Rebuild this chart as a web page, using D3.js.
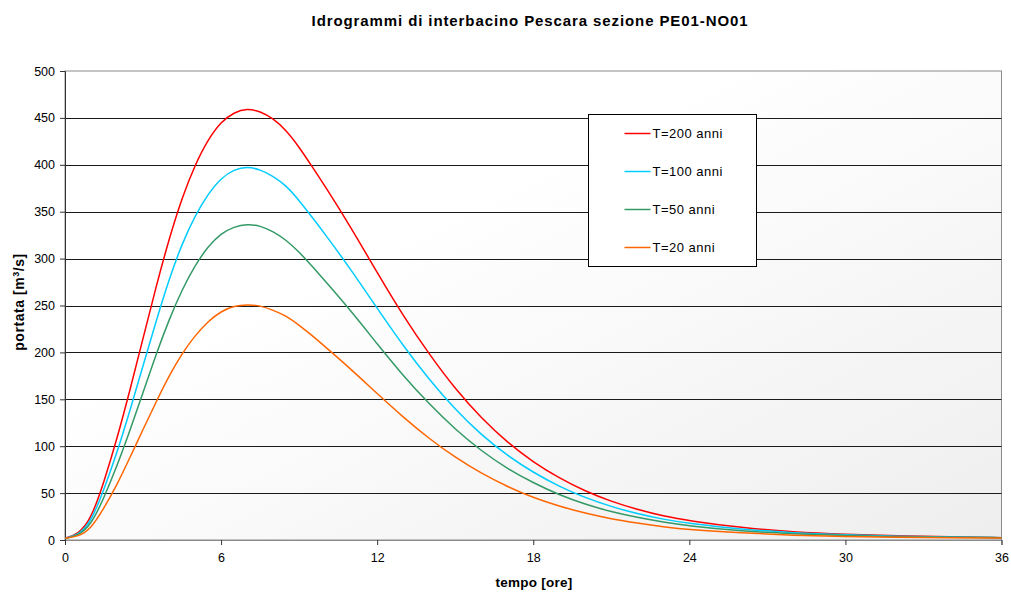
<!DOCTYPE html>
<html>
<head>
<meta charset="utf-8">
<script src="https://cdn.jsdelivr.net/npm/d3@7"></script>
<style>
  body { margin: 0; background: #fff; }
  svg { display: block; font-family: "Liberation Sans", Arial, sans-serif; }
</style>
</head>
<body>
<svg id="chart" width="1011" height="594"></svg>
<script>
// hours
const times = [0, 0.5, 1, 1.5, 2, 2.5, 3, 3.5, 4, 4.5, 5, 5.5, 6, 6.5, 7, 7.5, 8, 8.5, 9, 9.5, 10,
  11, 12, 13, 14, 15, 16, 17, 18, 19, 20, 21, 22, 23, 24, 26, 28, 30, 32, 34, 36];

// portata [m3/s] for each return period
const q200 = [2, 6, 22, 62, 108, 160, 215, 270, 321, 365, 400, 427, 446, 456, 460, 457, 449.5, 437, 419, 398, 377,
  333, 285, 239, 198, 161, 130, 104, 83, 66, 52, 41, 32.5, 25.5, 20.5, 13, 8.5, 6, 4.5, 3.5, 2.5];
const q100 = [2, 5, 19, 54, 93, 138, 186, 233, 278, 316, 346, 369, 386, 395, 398, 395, 388, 378, 362, 344, 326,
  288, 247, 207, 171, 139, 112, 90, 72, 57, 45, 35.5, 28, 22, 17.5, 11.5, 7.5, 5.5, 4, 3, 2.5];
const q50 = [1.5, 4.5, 16, 45, 79, 117, 157, 198, 235, 267, 293, 313, 327, 334, 337, 335, 329, 320, 307, 292, 276,
  244, 209, 175, 145, 118, 95, 76, 61, 48, 38, 30, 24, 19, 15, 9.5, 6.5, 4.5, 3.5, 3, 2.5];
const q20 = [2, 3.5, 12, 34, 59, 88, 118, 147, 175, 199, 218, 233, 244, 249.5, 251, 250, 245, 239, 229, 218, 206,
  182, 156, 131, 108, 88, 71, 57, 45, 36, 28.5, 22.5, 18, 14, 11, 7.5, 5, 3.5, 3, 2.5, 2];

const seriesNames = ["T=200 anni", "T=100 anni", "T=50 anni", "T=20 anni"];
const seriesData = [q200, q100, q50, q20];
const seriesColors = ["#ff0000", "#00ccff", "#339966", "#ff6600"];

const xTicks = [0, 6, 12, 18, 24, 30, 36];
const yTicks = d3.range(0, 501, 50);

const svg = d3.select("#chart");
const margin = { left: 65, right: 1001.5, top: 71, bottom: 540 };

const x = d3.scaleLinear().domain([0, 36]).range([margin.left, margin.right]);
const y = d3.scaleLinear().domain([0, 500]).range([margin.bottom, margin.top]);

// background gradient of the plot area
const grad = svg.append("defs").append("linearGradient")
  .attr("id", "bg").attr("x1", 0).attr("y1", 0).attr("x2", 1).attr("y2", 1);
grad.append("stop").attr("offset", "0.35").attr("stop-color", "#ffffff");
grad.append("stop").attr("offset", "1").attr("stop-color", "#eeeeee");

svg.append("rect")
  .attr("x", margin.left).attr("y", margin.top)
  .attr("width", margin.right - margin.left).attr("height", margin.bottom - margin.top)
  .attr("fill", "url(#bg)")
  .attr("stroke", "#8a8a8a");

// gridlines
svg.append("g")
  .selectAll("line")
  .data(yTicks.filter(d => d > 0 && d < 500))
  .join("line")
  .attr("x1", margin.left).attr("x2", margin.right)
  .attr("y1", d => Math.round(y(d)) + 0.5).attr("y2", d => Math.round(y(d)) + 0.5)
  .attr("stroke", "#1a1a1a");

// axes
const yAxis = svg.append("g")
  .attr("transform", `translate(${margin.left},0)`)
  .call(d3.axisLeft(y).tickValues(yTicks).tickSize(5).tickPadding(5));
yAxis.select(".domain").attr("stroke", "#333");
yAxis.selectAll(".tick line").attr("stroke", "#333");
yAxis.selectAll("text").attr("font-size", 12.5).attr("fill", "#000")
  .attr("font-family", "Liberation Sans, Arial, sans-serif");

const xAxis = svg.append("g")
  .attr("transform", `translate(0,${margin.bottom})`)
  .call(d3.axisBottom(x).tickValues(xTicks).tickSize(5).tickPadding(8));
xAxis.select(".domain").attr("stroke", "#8a8a8a");
xAxis.selectAll(".tick line").attr("stroke", "#333");
xAxis.selectAll("text").attr("font-size", 12.5).attr("fill", "#000")
  .attr("font-family", "Liberation Sans, Arial, sans-serif");

// curves
const line = d3.line()
  .x((d, i) => x(times[i]))
  .y(d => y(d))
  .curve(d3.curveBasis);

svg.append("g")
  .selectAll("path")
  .data(seriesData)
  .join("path")
  .attr("d", d => line(d))
  .attr("fill", "none")
  .attr("stroke", (d, i) => seriesColors[i])
  .attr("stroke-width", 1.5);

// titles
svg.append("text")
  .attr("x", 530).attr("y", 26)
  .attr("text-anchor", "middle")
  .attr("font-size", 15).attr("font-weight", "bold")
  .attr("letter-spacing", 0.9)
  .text("Idrogrammi di interbacino Pescara sezione PE01-NO01");

svg.append("text")
  .attr("x", 534).attr("y", 587)
  .attr("text-anchor", "middle")
  .attr("font-size", 13.5).attr("font-weight", "bold")
  .attr("letter-spacing", 0.25)
  .text("tempo [ore]");

const yLab = svg.append("text")
  .attr("transform", "translate(24,302) rotate(-90)")
  .attr("text-anchor", "middle")
  .attr("font-size", 14).attr("font-weight", "bold")
  .attr("letter-spacing", 0.55);
yLab.append("tspan").text("portata [m");
yLab.append("tspan").attr("font-size", 9).attr("dy", -5).text("3");
yLab.append("tspan").attr("dy", 5).text("/s]");

// legend
const legend = svg.append("g").attr("transform", "translate(588.5,114.5)");
legend.append("rect")
  .attr("width", 168).attr("height", 152)
  .attr("fill", "#fff").attr("stroke", "#000");
const items = legend.selectAll("g.item")
  .data(seriesNames)
  .join("g")
  .attr("class", "item")
  .attr("transform", (d, i) => `translate(0,${19 + i * 38})`);
items.append("line")
  .attr("x1", 36).attr("x2", 62)
  .attr("stroke", (d, i) => seriesColors[i])
  .attr("stroke-width", 1.5);
items.append("text")
  .attr("x", 64).attr("dy", "0.35em")
  .attr("font-size", 13)
  .attr("letter-spacing", 0.5)
  .text(d => d);
</script>
</body>
</html>
